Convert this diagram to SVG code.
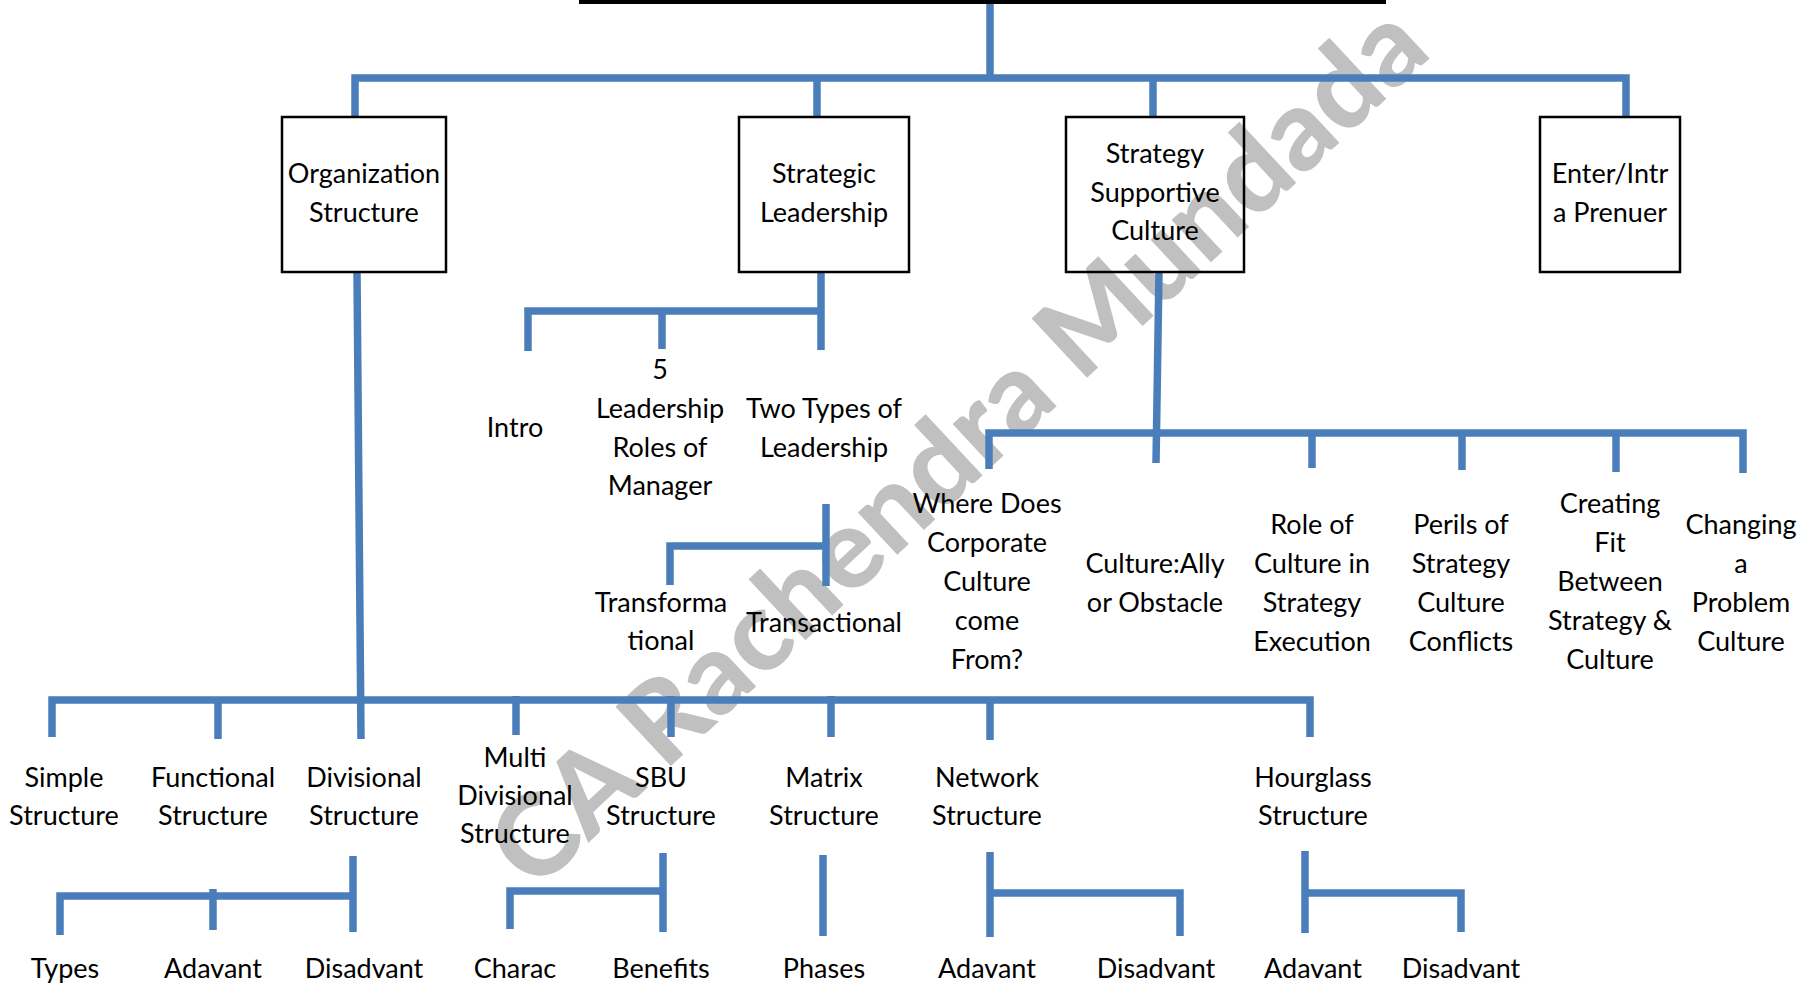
<svg xmlns="http://www.w3.org/2000/svg" width="1814" height="987" viewBox="0 0 1814 987">
<style>
.c{fill:none;stroke:#4a7ebb;stroke-width:7.5;stroke-linejoin:miter;stroke-linecap:butt}
.b{fill:none;stroke:#000;stroke-width:2.5}
.t{font-family:Lato,"Liberation Sans",sans-serif;font-size:27px;fill:#000;text-anchor:middle}
.wm{font-family:Lato,"Liberation Sans",sans-serif;font-weight:900;font-size:112px;fill:#c0c0c0;text-anchor:middle}
</style>
<rect width="1814" height="987" fill="#fff"/>
<text class="wm" x="984" y="474" transform="rotate(-43 984 474)" textLength="1230" lengthAdjust="spacingAndGlyphs">CA Rachendra Mundada</text>
<rect x="579" y="0" width="807" height="4" fill="#000"/>
<g id="connectors">
<path class="c" d="M990,4 L990,78"/>
<path class="c" d="M355,116 L355,78 L1626,78 L1626,116"/>
<path class="c" d="M817,78 L817,116"/>
<path class="c" d="M1153,78 L1153,116"/>
<path class="c" d="M528,351 L528,311 L821,311"/>
<path class="c" d="M821,272 L821,350"/>
<path class="c" d="M662,311 L662,349"/>
<path class="c" d="M826,504 L826,586"/>
<path class="c" d="M670,585 L670,546 L826,546"/>
<path class="c" d="M357,272 L361,739"/>
<path class="c" d="M52,737 L52,700 L1310,700 L1310,737"/>
<path class="c" d="M218,700 L218,739"/>
<path class="c" d="M516,696 L516,735"/>
<path class="c" d="M671,696 L671,737"/>
<path class="c" d="M831,696 L831,737"/>
<path class="c" d="M990,700 L990,740"/>
<path class="c" d="M1159,272 L1156,463"/>
<path class="c" d="M989,469 L989,433 L1743,433 L1743,473"/>
<path class="c" d="M1312,433 L1312,468"/>
<path class="c" d="M1462,433 L1462,470"/>
<path class="c" d="M1616,433 L1616,472"/>
<path class="c" d="M353,856 L353,932"/>
<path class="c" d="M60,935 L60,896 L353,896"/>
<path class="c" d="M213,889 L213,930"/>
<path class="c" d="M663,853 L663,932"/>
<path class="c" d="M510,929 L510,891 L663,891"/>
<path class="c" d="M823,855 L823,936"/>
<path class="c" d="M990,852 L990,937"/>
<path class="c" d="M990,893 L1180,893 L1180,936"/>
<path class="c" d="M1305,851 L1305,933"/>
<path class="c" d="M1305,893 L1461,893 L1461,932"/>
</g>
<g id="org-structure"><rect class="b" x="282" y="117" width="164" height="155"/><text class="t" x="364" y="183">Organization</text><text class="t" x="364" y="222">Structure</text></g>
<g id="strategic-leadership"><rect class="b" x="739" y="117" width="170" height="155"/><text class="t" x="824" y="183">Strategic</text><text class="t" x="824" y="222">Leadership</text></g>
<g id="strategy-supportive-culture"><rect class="b" x="1066" y="117" width="178" height="155"/><text class="t" x="1155" y="163">Strategy</text><text class="t" x="1155" y="202">Supportive</text><text class="t" x="1155" y="240">Culture</text></g>
<g id="entrepreneur"><rect class="b" x="1540" y="117" width="140" height="155"/><text class="t" x="1610" y="183">Enter/Intr</text><text class="t" x="1610" y="222">a Prenuer</text></g>
<g id="intro"><text class="t" x="515" y="437">Intro</text></g>
<g id="leadership-roles"><text class="t" x="660" y="379">5</text><text class="t" x="660" y="418">Leadership</text><text class="t" x="660" y="457">Roles of</text><text class="t" x="660" y="495">Manager</text></g>
<g id="two-types"><text class="t" x="824" y="418">Two Types of</text><text class="t" x="824" y="457">Leadership</text></g>
<g id="transformational"><text class="t" x="661" y="612">Transforma</text><text class="t" x="661" y="650">tional</text></g>
<g id="transactional"><text class="t" x="824" y="632">Transactional</text></g>
<g id="where-culture"><text class="t" x="987" y="513">Where Does</text><text class="t" x="987" y="552">Corporate</text><text class="t" x="987" y="591">Culture</text><text class="t" x="987" y="630">come</text><text class="t" x="987" y="669">From?</text></g>
<g id="ally-obstacle"><text class="t" x="1155" y="573">Culture:Ally</text><text class="t" x="1155" y="612">or Obstacle</text></g>
<g id="role-culture"><text class="t" x="1312" y="534">Role of</text><text class="t" x="1312" y="573">Culture in</text><text class="t" x="1312" y="612">Strategy</text><text class="t" x="1312" y="651">Execution</text></g>
<g id="perils"><text class="t" x="1461" y="534">Perils of</text><text class="t" x="1461" y="573">Strategy</text><text class="t" x="1461" y="612">Culture</text><text class="t" x="1461" y="651">Conflicts</text></g>
<g id="creating-fit"><text class="t" x="1610" y="513">Creating</text><text class="t" x="1610" y="552">Fit</text><text class="t" x="1610" y="591">Between</text><text class="t" x="1610" y="630">Strategy &amp;</text><text class="t" x="1610" y="669">Culture</text></g>
<g id="changing"><text class="t" x="1741" y="534">Changing</text><text class="t" x="1741" y="573">a</text><text class="t" x="1741" y="612">Problem</text><text class="t" x="1741" y="651">Culture</text></g>
<g id="simple"><text class="t" x="64" y="787">Simple</text><text class="t" x="64" y="825">Structure</text></g>
<g id="functional"><text class="t" x="213" y="787">Functional</text><text class="t" x="213" y="825">Structure</text></g>
<g id="divisional"><text class="t" x="364" y="787">Divisional</text><text class="t" x="364" y="825">Structure</text></g>
<g id="multi-divisional"><text class="t" x="515" y="767">Multi</text><text class="t" x="515" y="805">Divisional</text><text class="t" x="515" y="843">Structure</text></g>
<g id="sbu"><text class="t" x="661" y="787">SBU</text><text class="t" x="661" y="825">Structure</text></g>
<g id="matrix"><text class="t" x="824" y="787">Matrix</text><text class="t" x="824" y="825">Structure</text></g>
<g id="network"><text class="t" x="987" y="787">Network</text><text class="t" x="987" y="825">Structure</text></g>
<g id="hourglass"><text class="t" x="1313" y="787">Hourglass</text><text class="t" x="1313" y="825">Structure</text></g>
<g id="div-types"><text class="t" x="65" y="978">Types</text></g>
<g id="div-adv"><text class="t" x="213" y="978">Adavant</text></g>
<g id="div-disadv"><text class="t" x="364" y="978">Disadvant</text></g>
<g id="sbu-charac"><text class="t" x="515" y="978">Charac</text></g>
<g id="sbu-benefits"><text class="t" x="661" y="978">Benefits</text></g>
<g id="matrix-phases"><text class="t" x="824" y="978">Phases</text></g>
<g id="net-adv"><text class="t" x="987" y="978">Adavant</text></g>
<g id="net-disadv"><text class="t" x="1156" y="978">Disadvant</text></g>
<g id="hour-adv"><text class="t" x="1313" y="978">Adavant</text></g>
<g id="hour-disadv"><text class="t" x="1461" y="978">Disadvant</text></g>
</svg>
